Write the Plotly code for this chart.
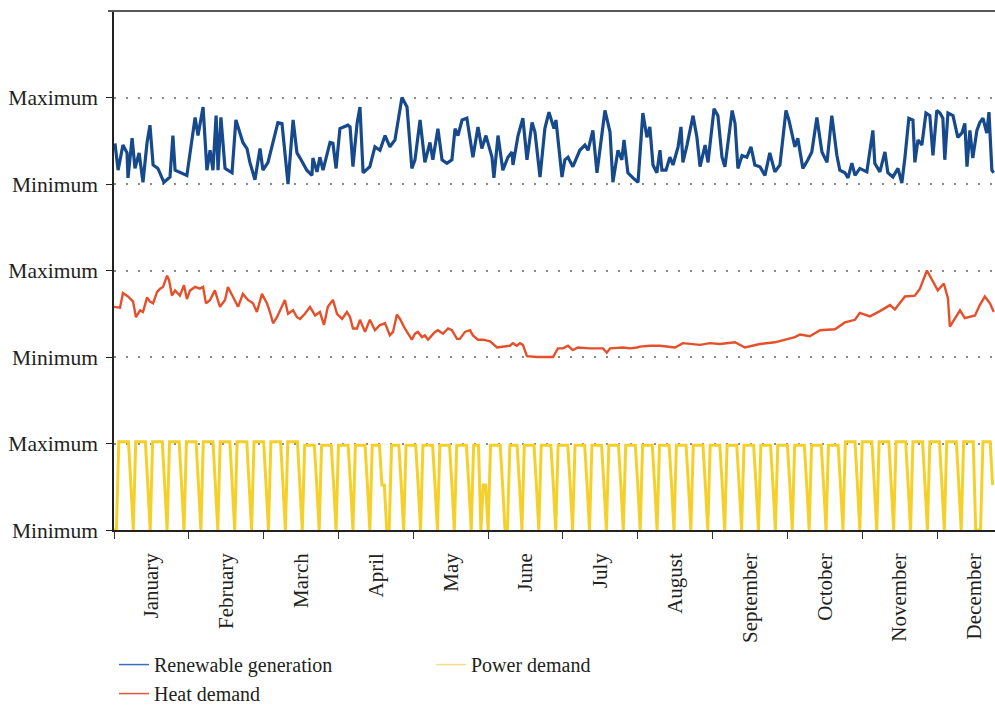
import plotly.graph_objects as go

# ---------------------------------------------------------------------------
# One year of daily profiles, each shown as a normalised band
# (0 = minimum, 1 = maximum of the series). x is the day of the year.
# ---------------------------------------------------------------------------
months = ["January", "February", "March", "April", "May", "June",
          "July", "August", "September", "October", "November", "December"]
tick_labels_y = ["Minimum", "Maximum", "Minimum", "Maximum", "Minimum", "Maximum"]

renew_day = [
    0.4, 1.7, 3.7, 5.4, 5.8, 7.5, 8.7, 10.4, 12.0, 13.7, 14.9, 16.2, 18.2, 20.7,
    23.2, 24.4, 25.3, 28.2, 30.2, 33.6, 34.8, 36.9, 38.5, 39.8, 41.0, 42.3, 43.1,
    44.3, 46.0, 48.9, 50.5, 53.4, 55.1, 56.3, 58.4, 60.5, 61.7, 63.8, 67.9, 69.6,
    72.1, 74.2, 75.8, 77.1, 78.3, 79.9, 82.0, 82.4, 84.1, 85.3, 86.6, 89.5, 90.7,
    92.0, 93.6, 95.7, 96.9, 97.8, 99.0, 100.7, 101.9, 103.2, 106.0, 108.1, 110.2,
    112.3, 114.3, 116.4, 119.3, 121.4, 123.4, 124.7, 126.8, 128.8, 130.9, 132.1,
    134.2, 135.9, 137.9, 140.0, 141.3, 142.5, 144.2, 146.2, 148.7, 150.8, 152.4,
    154.1, 156.6, 157.4, 159.1, 161.1, 163.2, 164.9, 165.3, 167.4, 169.4, 171.1,
    173.2, 174.4, 176.5, 178.5, 180.2, 182.3, 183.1, 185.6, 186.8, 188.1, 190.1,
    193.0, 195.1, 196.4, 198.4, 200.1, 203.4, 205.5, 206.7, 208.8, 210.4, 211.3,
    212.9, 215.0, 217.1, 219.1, 220.8, 222.0, 223.3, 224.9, 226.2, 227.0, 228.7,
    230.3, 231.6, 233.7, 234.9, 235.7, 237.4, 239.9, 241.5, 242.8, 244.9, 246.1,
    248.6, 250.2, 251.9, 253.1, 256.1, 257.3, 258.5, 260.2, 262.2, 263.9, 265.5,
    267.6, 269.7, 271.7, 273.8, 275.9, 278.4, 279.6, 282.1, 283.3, 285.4, 287.5,
    289.1, 291.2, 293.3, 295.4, 297.4, 299.5, 300.7, 302.8, 304.1, 305.7, 307.0,
    309.0, 311.9, 314.4, 315.2, 317.3, 319.4, 320.6, 322.7, 324.8, 326.4, 327.7,
    329.3, 331.0, 331.8, 333.1, 334.7, 336.4, 338.0, 339.3, 340.9, 342.2, 343.4,
    344.2, 345.5, 347.6, 349.6, 351.3, 352.5, 353.4, 354.6, 355.8, 357.5, 358.7,
    360.0, 361.6, 362.5, 363.7, 364.5,
]
renew_val = [
    0.47, 0.16, 0.45, 0.36, 0.07, 0.53, 0.18, 0.36, 0.02, 0.48, 0.68, 0.22, 0.18, 0.02,
    0.08, 0.56, 0.16, 0.13, 0.10, 0.77, 0.56, 0.89, 0.16, 0.39, 0.16, 0.79, 0.16,
    0.77, 0.18, 0.13, 0.74, 0.48, 0.41, 0.25, 0.05, 0.41, 0.16, 0.25, 0.71, 0.70,
    0.00, 0.74, 0.36, 0.30, 0.24, 0.16, 0.10, 0.30, 0.14, 0.31, 0.16, 0.48, 0.47,
    0.18, 0.64, 0.66, 0.68, 0.66, 0.20, 0.70, 0.89, 0.13, 0.20, 0.43, 0.39,
    0.56, 0.43, 0.51, 1.00, 0.89, 0.18, 0.28, 0.74, 0.25, 0.48, 0.28,
    0.64, 0.28, 0.24, 0.28, 0.64, 0.56, 0.74, 0.76, 0.31, 0.66, 0.41,
    0.56, 0.31, 0.07, 0.56, 0.16, 0.31, 0.37, 0.22, 0.56, 0.76, 0.28,
    0.71, 0.60, 0.08, 0.64, 0.83, 0.64, 0.74, 0.08, 0.28, 0.31, 0.20,
    0.39, 0.45, 0.39, 0.62, 0.13, 0.85, 0.60, 0.02, 0.39, 0.28, 0.51,
    0.13, 0.07, 0.02, 0.82, 0.54, 0.66, 0.22, 0.13, 0.39, 0.16, 0.16,
    0.31, 0.22, 0.43, 0.66, 0.25, 0.45, 0.79, 0.54, 0.20, 0.45, 0.25,
    0.87, 0.79, 0.31, 0.20, 0.85, 0.70, 0.18, 0.33, 0.31, 0.43, 0.22,
    0.20, 0.10, 0.36, 0.14, 0.22, 0.85, 0.74, 0.43, 0.53, 0.18, 0.28,
    0.37, 0.77, 0.37, 0.25, 0.79, 0.33, 0.16, 0.13, 0.07, 0.24, 0.10,
    0.18, 0.14, 0.62, 0.24, 0.14, 0.37, 0.13, 0.08, 0.18, 0.01, 0.31,
    0.76, 0.74, 0.25, 0.51, 0.45, 0.82, 0.79, 0.33, 0.85, 0.82, 0.76,
    0.28, 0.82, 0.79, 0.54, 0.59, 0.70, 0.20, 0.62, 0.30, 0.62, 0.71,
    0.76, 0.59, 0.83, 0.16, 0.13,
]

heat_day = [
    0.0, 2.5, 3.7, 5.8, 7.9, 9.1, 10.8, 12.0, 13.7, 14.9, 16.2, 17.8, 19.1, 20.3,
    22.0, 22.8, 24.0, 25.3, 27.3, 29.0, 30.2, 31.5, 33.6, 35.6, 36.9, 38.1, 39.8,
    41.8, 43.9, 46.0, 47.2, 49.3, 51.4, 53.4, 55.5, 57.6, 59.2, 61.3, 63.4, 64.6,
    65.9, 67.5, 69.6, 70.8, 72.1, 74.2, 75.8, 77.1, 79.1, 81.2, 83.3, 85.3, 87.0,
    88.6, 90.7, 92.4, 94.5, 96.5, 97.8, 99.0, 100.7, 101.9, 104.0, 106.0, 108.1,
    110.2, 112.3, 114.3, 115.6, 117.2, 118.5, 120.5, 123.4, 124.7, 125.9, 127.6,
    128.8, 130.1, 131.7, 133.0, 134.2, 136.3, 138.4, 140.0, 142.1, 143.3, 145.4,
    147.5, 148.7, 150.8, 152.9, 155.8, 158.7, 161.1, 164.0, 165.3, 166.9, 168.2,
    169.4, 171.1, 175.2, 181.9, 183.9, 186.0, 188.1, 190.1, 192.2, 197.2, 202.6,
    204.2, 205.5, 210.9, 213.8, 216.7, 217.9, 222.0, 226.2, 232.4, 235.7, 242.8,
    246.9, 251.0, 257.3, 261.4, 267.6, 273.8, 277.9, 282.1, 284.2, 288.3, 292.5,
    298.7, 302.8, 307.0, 309.0, 313.2, 317.3, 321.5, 323.5, 327.7, 331.8, 333.9,
    336.8, 338.9, 341.3, 343.8, 345.5, 346.3, 350.5, 352.5, 356.7, 358.7, 360.8,
    362.9, 364.5,
]
heat_val = [
    0.58, 0.57, 0.74, 0.70, 0.64, 0.46, 0.54, 0.52, 0.69, 0.64, 0.62, 0.75, 0.79, 0.81,
    0.94, 0.89, 0.71, 0.77, 0.71, 0.83, 0.67, 0.77, 0.81, 0.79, 0.81, 0.62, 0.66,
    0.77, 0.58, 0.66, 0.81, 0.69, 0.58, 0.73, 0.66, 0.62, 0.52, 0.73, 0.62, 0.52,
    0.39, 0.46, 0.58, 0.66, 0.50, 0.54, 0.46, 0.44, 0.50, 0.58, 0.48, 0.52, 0.37,
    0.58, 0.66, 0.50, 0.44, 0.52, 0.46, 0.33, 0.33, 0.43, 0.29, 0.43, 0.31,
    0.37, 0.39, 0.25, 0.29, 0.49, 0.44, 0.33, 0.20, 0.27, 0.29, 0.23,
    0.25, 0.20, 0.25, 0.29, 0.31, 0.27, 0.33, 0.31, 0.21, 0.21, 0.29,
    0.31, 0.25, 0.20, 0.20, 0.18, 0.11, 0.12, 0.13, 0.16, 0.13, 0.16,
    0.14, 0.01, 0.00, 0.00, 0.10, 0.10, 0.13, 0.08, 0.11, 0.10, 0.10,
    0.05, 0.10, 0.11, 0.10, 0.11, 0.12, 0.13, 0.13, 0.11, 0.16, 0.14,
    0.16, 0.15, 0.17, 0.11, 0.15, 0.17, 0.20, 0.23, 0.26, 0.24, 0.31,
    0.32, 0.40, 0.43, 0.51, 0.47, 0.53, 0.60, 0.55, 0.70, 0.71, 0.79,
    1.00, 0.89, 0.77, 0.85, 0.68, 0.35, 0.54, 0.45, 0.48, 0.60, 0.70,
    0.62, 0.52,
]

# Daily power demand, day 0 = Saturday 1 January.
# H / L: weekday level (winter / summer), S: Saturday, Z: Sunday and holidays
H, L, S, Z = 1.02, 0.98, 0.52, 0.0
power_val = [
    Z, Z,
    H, H, H, H, H, S, Z,   # Jan 3
    H, H, H, H, H, S, Z,
    H, H, H, H, H, S, Z,
    H, H, H, H, H, S, Z,
    H, H, H, H, H, S, Z,   # Jan 31
    H, H, H, H, H, S, Z,
    H, H, H, H, H, S, Z,
    H, H, H, H, H, S, Z,
    H, H, H, H, H, S, Z,   # Feb 28
    H, H, H, H, H, S, Z,
    H, H, H, H, H, S, Z,
    L, L, L, L, L, S, Z,   # Mar 21
    L, L, L, L, L, S, Z,
    L, L, L, L, L, S, Z,   # Apr 4
    L, L, L, L, L, S, Z,
    L, L, L, L, S, S, Z,   # Apr 18 (Easter)
    Z, L, L, L, L, S, Z,
    L, L, L, L, L, S, Z,   # May 2
    L, L, L, L, L, S, Z,
    L, L, L, L, L, S, Z,
    L, L, L, L, L, S, Z,
    L, L, L, Z, S, S, Z,   # May 30 (Ascension)
    L, L, L, L, L, S, Z,
    Z, L, L, L, L, S, Z,   # Jun 13 (Whit Monday)
    L, L, L, L, L, S, Z,
    L, L, L, L, L, S, Z,   # Jun 27
    L, L, L, L, L, S, Z,
    L, L, L, L, L, S, Z,
    L, L, L, L, L, S, Z,
    L, L, L, L, L, S, Z,   # Jul 25
    L, L, L, L, L, S, Z,
    L, L, L, L, L, S, Z,
    L, L, L, L, L, S, Z,
    L, L, L, L, L, S, Z,   # Aug 22
    L, L, L, L, L, S, Z,
    L, L, L, L, L, S, Z,
    L, L, L, L, L, S, Z,
    L, L, L, L, L, S, Z,   # Sep 19
    L, L, L, L, L, S, Z,
    L, L, L, L, L, S, Z,
    L, L, L, L, L, S, Z,
    L, L, L, L, L, S, Z,   # Oct 17
    L, L, L, L, L, S, Z,
    H, H, H, H, H, S, Z,   # Oct 31
    H, H, H, H, H, S, Z,
    H, H, H, H, H, S, Z,
    H, H, H, H, H, S, Z,
    H, H, H, H, H, S, Z,   # Nov 28
    H, H, H, H, H, S, Z,
    H, H, H, H, H, S, Z,
    H, H, H, H, H, Z, Z,   # Dec 19
    Z, H, H, H, H, S,      # Dec 26 - 31
]
power_day = list(range(len(power_val)))

# Vertical position of each normalised band on the shared y axis
BAND_POWER, BAND_HEAT, BAND_RENEW = 0, 2, 4

BLUE = "#174a8c"
RED = "#e5502b"
YELLOW = "#f6d02a"
FONT = "Liberation Serif"
TEXT = "#231f20"

fig = go.Figure()

fig.add_trace(go.Scatter(
    x=renew_day, y=[BAND_RENEW + v for v in renew_val], mode="lines",
    line=dict(color=BLUE, width=3.2), showlegend=False, hoverinfo="skip"))
fig.add_trace(go.Scatter(
    x=heat_day, y=[BAND_HEAT + v for v in heat_val], mode="lines",
    line=dict(color=RED, width=2.4), showlegend=False, hoverinfo="skip"))
fig.add_trace(go.Scatter(
    x=power_day, y=[BAND_POWER + v for v in power_val], mode="lines",
    line=dict(color=YELLOW, width=3), showlegend=False, hoverinfo="skip"))

# Thin legend keys
for name, color, rank in [("Renewable generation", "#3a6fc4", 1),
                          ("Power demand", "#f7dc86", 2),
                          ("Heat demand", "#e35a3a", 3)]:
    fig.add_trace(go.Scatter(x=[None], y=[None], mode="lines", name=name,
                             legendrank=rank, line=dict(color=color, width=1.5)))

fig.update_layout(
    width=995, height=705,
    margin=dict(l=114, r=0, t=11, b=175, autoexpand=False),
    paper_bgcolor="white", plot_bgcolor="white",
    font=dict(family=FONT, size=20, color=TEXT),
    legend=dict(orientation="h", x=0, xanchor="left",
                yref="container", y=0.085, yanchor="top",
                entrywidth=272, entrywidthmode="pixels",
                font=dict(family=FONT, size=20, color=TEXT),
                itemclick=False, tracegroupgap=0),
    xaxis=dict(
        range=[0, 365], showgrid=False, zeroline=False, automargin=False,
        showline=True, linecolor="#222", linewidth=1.5,
        tickmode="array", tickvals=[15.5 + 31 * i for i in range(12)],
        ticktext=months, ticks="", tickangle=-90, ticklabelstandoff=13,
        tickfont=dict(family=FONT, size=21, color=TEXT),
        minor=dict(tickmode="linear", tick0=0, dtick=31, ticks="outside",
                   ticklen=7, tickwidth=1.3, tickcolor="#333", showgrid=False),
    ),
    yaxis=dict(
        range=[0, 6], zeroline=False, automargin=False,
        showline=True, linecolor="#222", linewidth=1.5,
        tickmode="array", tickvals=list(range(6)), ticktext=tick_labels_y,
        ticks="outside", ticklen=6, tickwidth=1.3, tickcolor="#222",
        ticklabelstandoff=4,
        tickfont=dict(family=FONT, size=21.5, color=TEXT),
        showgrid=True, gridcolor="#8a8a8a", gridwidth=1.5, griddash="2px,10px",
    ),
    shapes=[dict(type="line", xref="paper", yref="paper", x0=-6 / 881, x1=1,
                 y0=1, y1=1, line=dict(color="#5a5a5a", width=2.2))],
)

fig.write_html("out.html")
